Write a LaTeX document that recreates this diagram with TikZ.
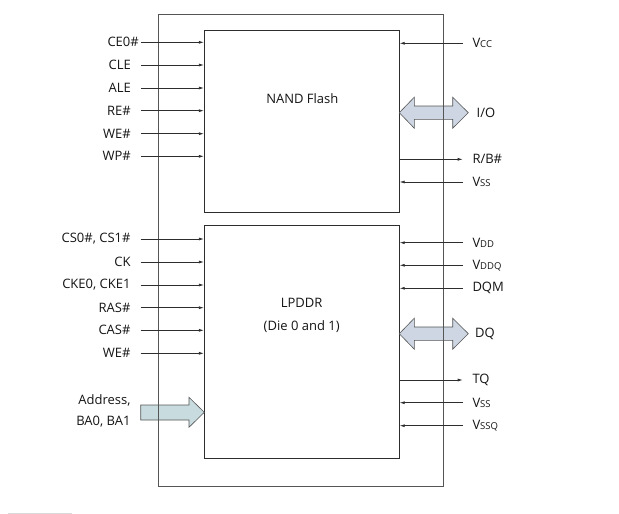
\documentclass[tikz,border=0pt]{standalone}
\usepackage{fontspec}
\setmainfont{Open Sans}
\usetikzlibrary{arrows.meta,calc}
\definecolor{txt}{RGB}{20,20,20}
\definecolor{ln}{RGB}{45,45,45}
\definecolor{outer}{RGB}{85,85,85}
\definecolor{iofill}{RGB}{205,214,226}
\definecolor{adfill}{RGB}{200,220,224}
\newcommand{\sm}[1]{{\fontsize{9.5}{9.5}\selectfont #1}}
\tikzset{
  lbl/.style={font=\fontsize{13}{15}\selectfont, text=txt, inner sep=0pt},
  sig/.style={draw=ln, line width=0.7pt, -{Latex[length=5pt,width=3pt]}},
  chip/.style={draw=ln, line width=0.8pt, minimum width=195pt, inner sep=0pt},
  pkgbox/.style={draw=outer, line width=0.9pt, minimum width=284.6pt, minimum height=472.7pt, inner sep=0pt},
  bus/.style={draw=outer, line width=0.6pt},
}
\begin{document}
\begin{tikzpicture}[x=1pt,y=-1pt]
\useasboundingbox (0,0) rectangle (619,514);
% chips
\node[chip, minimum height=182.7pt] (nand) at (301.8,121.35) {};
\node[chip, minimum height=233.3pt] (lpddr) at (301.8,341.65) {};
\node[lbl] (nandt) at (302.3,98.3) {NAND Flash};
\node[lbl] (lpt) at (301.7,303.3) {LPDDR};
\node[lbl] (lpt2) at (301.7,326.7) {(Die 0 and 1)};
% bus arrows (drawn under outer box)
\filldraw[bus, fill=iofill] (399.3,112.7) -- (414.3,97.2) -- (414.3,106) -- (452.7,106) -- (452.7,97.2)
  -- (468.3,112.7) -- (452.7,128.2) -- (452.7,119.4) -- (414.3,119.4) -- (414.3,128.2) -- cycle;
\filldraw[bus, fill=iofill] (399.3,333.7) -- (414.3,318.2) -- (414.3,327) -- (452.7,327) -- (452.7,318.2)
  -- (468.3,333.7) -- (452.7,349.2) -- (452.7,340.4) -- (414.3,340.4) -- (414.3,349.2) -- cycle;
\filldraw[bus, fill=adfill] (140.7,405) -- (189,405) -- (189,397.3) -- (204.3,412.3) -- (189,427.3)
  -- (189,420) -- (140.7,420) -- cycle;
% outer package
\node[pkgbox] (pkg) at (301,250.35) {};
% NAND left signals
\node[lbl, anchor=east] (ce) at (139,42.3) {CE0\#};
\foreach \t/\y/\n in {CLE/65/cle, ALE/88/ale, RE\#/110.7/re, WE\#/133.7/we, WP\#/156.3/wp}{
  \node[lbl, anchor=east] (\n) at (131,\y) {\t};
}
\foreach \n/\y in {ce/42.3, cle/65, ale/88, re/110.7, we/133.7, wp/156.3}{
  \coordinate (\n s) at (141,\y);
  \draw[sig] (\n s) -- (nand.west |- \n s);
}
% LPDDR left signals
\foreach \t/\y/\n in {{CS0\#, CS1\#}/239/cs, CK/262/ck, {CKE0, CKE1}/285/cke, RAS\#/307.7/ras, CAS\#/330.3/cas, WE\#/353.3/lwe}{
  \node[lbl, anchor=east] (\n) at (130.7,\y) {\t};
  \coordinate (\n s) at (140.7,\y);
  \draw[sig] (\n s) -- (lpddr.west |- \n s);
}
\node[lbl, anchor=east] (addr) at (130.7,400) {Address,};
\node[lbl, anchor=east] (ba) at (130.7,422) {BA0, BA1};
% NAND right signals
\node[lbl, anchor=west] (vcc) at (472.3,43.3) {V\sm{CC}};
\coordinate (vccs) at (462.7,43.3);
\draw[sig] (vccs) -- (nand.east |- vccs);
\node[lbl, anchor=west] (iol) at (476.5,112.7) {I/O};
\node[lbl, anchor=west] (rb) at (472.3,159.3) {R/B\#};
\coordinate (rbs) at (462.7,159.3);
\draw[sig] (nand.east |- rbs) -- (rbs);
\node[lbl, anchor=west] (vss) at (472.3,182) {V\sm{SS}};
\coordinate (vsss) at (462.7,182);
\draw[sig] (vsss) -- (nand.east |- vsss);
% LPDDR right signals
\foreach \t/\y/\n in {{V\sm{DD}}/242.7/vdd, {V\sm{DDQ}}/265.3/vddq, DQM/288.3/dqm, {V\sm{SS}}/402.7/lvss, {V\sm{SSQ}}/425.7/vssq}{
  \node[lbl, anchor=west] (\n) at (472.3,\y) {\t};
  \coordinate (\n s) at (462.7,\y);
  \draw[sig] (\n s) -- (lpddr.east |- \n s);
}
\node[lbl, anchor=west] (dq) at (475,333.7) {DQ};
\node[lbl, anchor=west] (tq) at (472.3,380) {TQ};
\coordinate (tqs) at (462.7,380);
\draw[sig] (lpddr.east |- tqs) -- (tqs);
% faint line bottom-left
\coordinate (fa) at (8,513);
\coordinate (fb) at (72,513);
\draw[gray!30, line width=1pt] (fa) -- (fb);
\end{tikzpicture}
\end{document}
